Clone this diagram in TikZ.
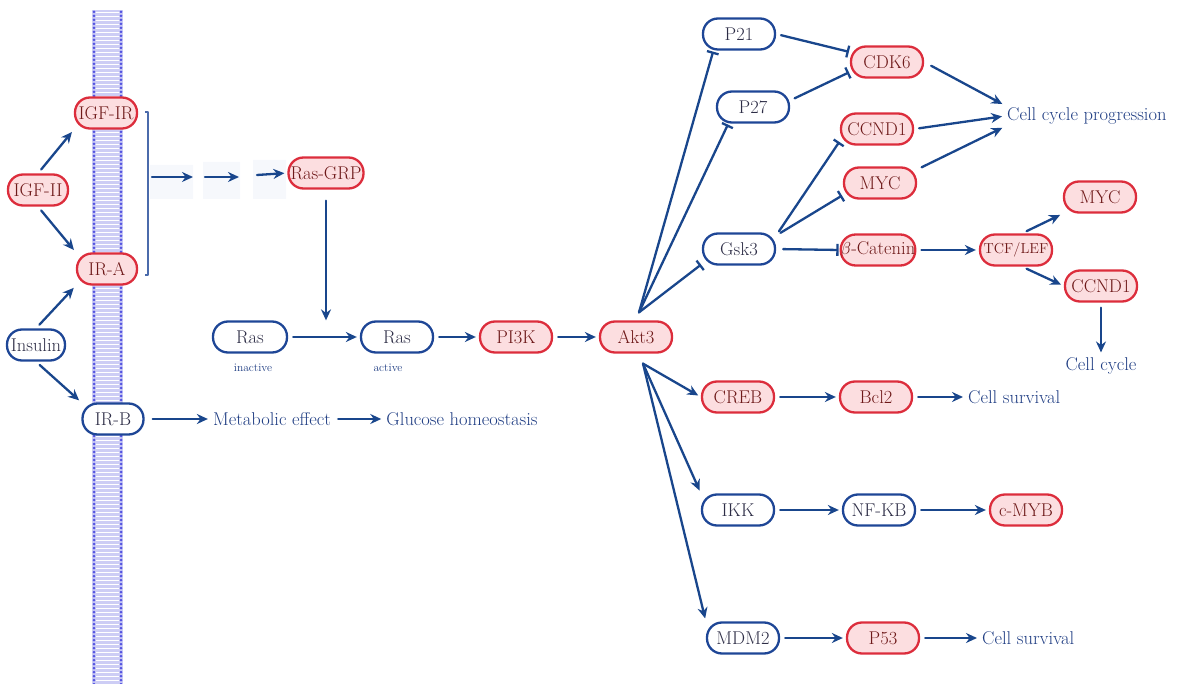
\documentclass[tikz,border=0pt]{standalone}
\usetikzlibrary{arrows.meta,calc}
\definecolor{genered}{RGB}{220,45,60}
\definecolor{genefill}{RGB}{252,222,224}
\definecolor{genetext}{RGB}{110,25,25}
\definecolor{protblue}{RGB}{30,70,150}
\definecolor{prottext}{RGB}{45,45,70}
\definecolor{arrowblue}{RGB}{25,70,140}
\definecolor{notetext}{RGB}{30,60,130}
\definecolor{membfill}{RGB}{205,205,245}
\definecolor{membdot}{RGB}{85,85,225}
\definecolor{ghost}{RGB}{246,248,252}
\begin{document}
\begin{tikzpicture}[x=1pt,y=-1pt, font=\fontsize{18.5}{21}\selectfont, line join=round, line cap=round,
	gene/.style={draw=genered, fill=genefill, text=genetext, line width=2.3pt, rounded corners=15pt, minimum width=72pt, minimum height=31pt, inner sep=0pt},
	prot/.style={draw=protblue, fill=white, text=prottext, line width=2.3pt, rounded corners=15pt, minimum width=72pt, minimum height=31pt, inner sep=0pt},
	note/.style={text=notetext, inner sep=2pt},
	act/.style={draw=arrowblue, line width=2.3pt, -{Stealth[length=11pt,width=10pt]}, shorten <=5pt, shorten >=3pt},
	inh/.style={draw=arrowblue, line width=2.3pt, -{Bar[width=12pt]}, shorten <=5pt, shorten >=1pt}]
	\useasboundingbox (0,0) rectangle (1181,684);
	% membrane
	\fill[membfill] (92,10) rectangle (123,684);
	\foreach \y in {12,16,...,684} {
		\draw[white, line width=0.8pt] (96,\y) -- (119,\y);
		\fill[membdot] (94,\y) circle (1.5);
		\fill[membdot] (121,\y) circle (1.5);
	}
	% receptors and ligands
	\node[gene, minimum width=62pt] (igfir) at (106,113) {IGF-IR};
	\node[gene, minimum width=60pt] (igf2) at (38,190) {IGF-II};
	\node[gene, minimum width=60pt] (ira) at (107,269) {IR-A};
	\node[prot, minimum width=58pt] (ins) at (36,345) {Insulin};
	\node[prot, minimum width=61pt] (irb) at (113,419) {IR-B};
	\draw[act] (igf2.north) -- (igfir.south west);
	\draw[act] (igf2.south) -- (ira.north west);
	\draw[act] (ins.north) -- (ira.south west);
	\draw[act] (ins.south) -- (irb.north west);
	% Ras
	\node[gene, minimum width=75pt] (rasgrp) at (326,173) {Ras-GRP};
	\fill[ghost] (150,165) rectangle (193,199) (203,162) rectangle (240,199) (253,160) rectangle (286,199);
	\draw[draw=protblue!80, line width=1.8pt, line cap=butt] (145,112) -| (148,275) -- (145,275);
	\foreach \a/\b in {152/193,205/239} \draw[act, shorten <=0pt, shorten >=0pt] (\a,177) -- (\b,177);
	\draw[act, shorten <=0pt] (257,175) -- (rasgrp.west);
	\node[prot, minimum width=74pt] (ras1) at (250,337) {Ras};
	\node[prot] (ras2) at (397,337) {Ras};
	\node[note, font=\fontsize{11.5}{13}\selectfont] (lab1) at (253,368) {inactive};
	\node[note, font=\fontsize{11.5}{13}\selectfont] (lab2) at (388,368) {active};
	\node[gene] (pi3k) at (516,337) {PI3K};
	\node[gene] (akt) at (636,337) {Akt3};
	\draw[act, shorten <=11pt, shorten >=0pt] (rasgrp.south) -- (rasgrp.south |- ras1.north);
	\draw[act] (ras1) -- (ras2);
	\draw[act] (ras2) -- (pi3k);
	\draw[act] (pi3k) -- (akt);
	\node[note] (met) at (272,419) {Metabolic effect};
	\node[note] (glu) at (462,419) {Glucose homeostasis};
	\draw[act, shorten <=8pt] (irb) -- (met);
	\draw[act] (met) -- (glu);
	% Akt3 targets
	\node[prot] (p21) at (739,34) {P21};
	\node[prot] (p27) at (753,107) {P27};
	\node[prot] (gsk) at (739,249) {Gsk3};
	\node[gene] (creb) at (738,397) {CREB};
	\node[prot] (ikk) at (738,510) {IKK};
	\node[prot] (mdm) at (743,638) {MDM2};
	\coordinate (aktup) at ($(akt.north)+(3,-8)$);
	\coordinate (aktdn) at ($(akt.south)+(7,10)$);
	\draw[inh, shorten <=0pt] (aktup) -- (p21.213);
	\draw[inh, shorten <=0pt] (aktup) -- (p27.214);
	\draw[inh, shorten <=0pt] (aktup) -- (gsk.202);
	\draw[act, shorten <=0pt] (aktdn) -- (creb.west);
	\draw[act, shorten <=0pt] (aktdn) -- (ikk.north west);
	\draw[act, shorten <=0pt] (aktdn) -- (mdm.north west);
	% cell cycle
	\node[gene] (cdk6) at (887,62) {CDK6};
	\node[gene] (ccnda) at (877,129) {CCND1};
	\node[gene] (myca) at (880,183) {MYC};
	\node[gene] (bcat) at (878,250) {$\beta$-Catenin};
	\node[gene, font=\fontsize{14.5}{16}\selectfont] (tcf) at (1016,250) {TCF/LEF};
	\node[gene] (mycb) at (1100,197) {MYC};
	\node[gene] (ccndb) at (1101,286) {CCND1};
	\node[note, anchor=west] (ccp) at (1005,116) {Cell cycle progression};
	\node[note] (cc) at (1101,366) {Cell cycle};
	\draw[inh] (p21.east) -- (cdk6.165);
	\draw[inh] (p27.10) -- (cdk6.195);
	\draw[act, shorten <=8pt] (cdk6.east) -- (ccp.north west);
	\draw[act] (ccnda.east) -- (ccp.west);
	\draw[act] (myca.20) -- (ccp.south west);
	\draw[inh] (gsk.20) -- (ccnda.198);
	\draw[inh] (gsk.20) -- (myca.198);
	\draw[inh, shorten <=7pt] (gsk.east) -- (bcat.west);
	\draw[act] (bcat.east) -- (tcf.west);
	\draw[act] (tcf.70) -- (mycb.south west);
	\draw[act] (tcf.-70) -- (ccndb.west);
	\draw[act] (ccndb.south) -- (cc.north);
	% survival
	\node[gene] (bcl) at (876,397) {Bcl2};
	\node[note, anchor=west] (surva) at (966,397) {Cell survival};
	\node[prot] (nfkb) at (879,510) {NF-KB};
	\node[gene] (cmyb) at (1026,510) {c-MYB};
	\node[gene] (p53) at (883,638) {P53};
	\node[note, anchor=west] (survb) at (980,638) {Cell survival};
	\draw[act] (creb.east) -- (bcl.west);
	\draw[act] (bcl.east) -- (surva.west);
	\draw[act] (ikk.east) -- (nfkb.west);
	\draw[act] (nfkb.east) -- (cmyb.west);
	\draw[act] (mdm.east) -- (p53.west);
	\draw[act] (p53.east) -- (survb.west);
\end{tikzpicture}
\end{document}
